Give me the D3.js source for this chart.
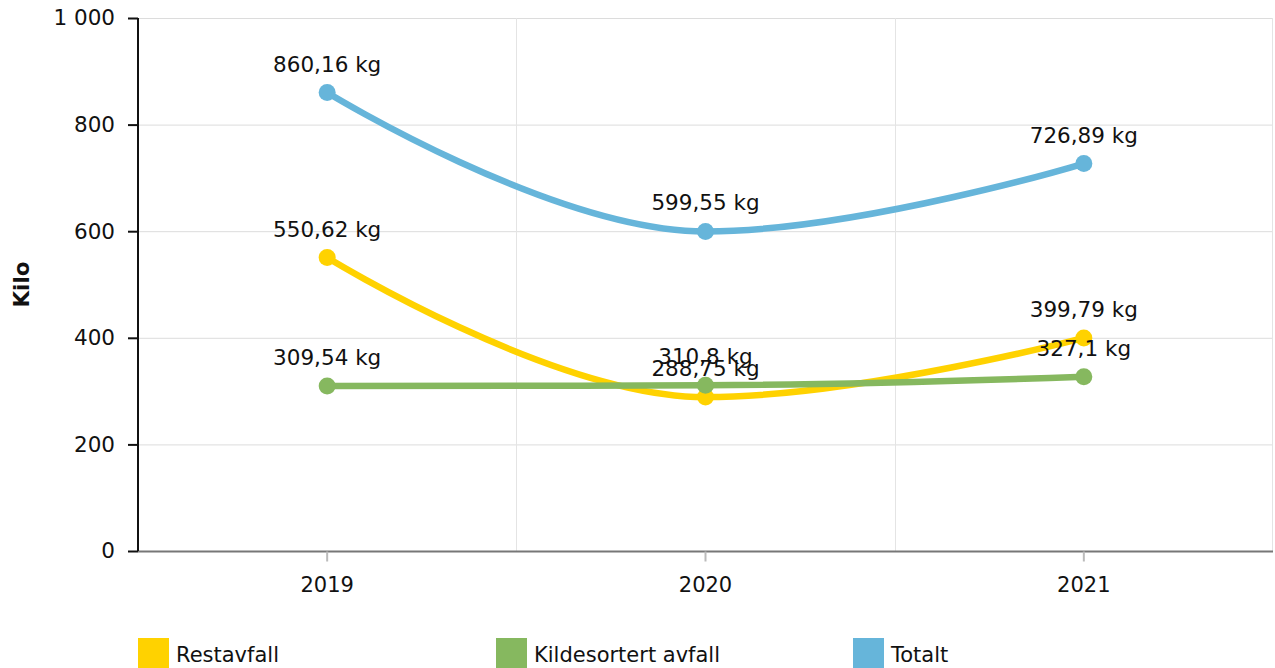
<!DOCTYPE html>
<html lang="no">
<head>
<meta charset="UTF-8">
<script src="https://cdn.jsdelivr.net/npm/d3@7"></script>
<style>
  body { margin: 0; overflow: hidden; background: #fff; font-family: "DejaVu Sans", Verdana, sans-serif; }
</style>
</head>
<body>
<svg id="chart" width="1275" height="668"></svg>
<script>
const years = ['2019', '2020', '2021'];
const restavfall = [550.62, 288.75, 399.79];
const kildesortert = [309.54, 310.8, 327.1];
const totalt = [860.16, 599.55, 726.89];
const seriesNames = ['Restavfall', 'Kildesortert avfall', 'Totalt'];
const seriesColors = ['#ffd200', '#86b85f', '#66b5da'];
const yTicks = [0, 200, 400, 600, 800, 1000];

const series = [restavfall, kildesortert, totalt].map((vals, i) => ({
  name: seriesNames[i], color: seriesColors[i],
  points: vals.map((v, j) => ({ year: years[j], value: v }))
}));

const svg = d3.select('#chart');
const plotLeft = 138, plotRight = 1273, plotTop = 18, plotBottom = 551;
const fontFamily = '"DejaVu Sans", Verdana, sans-serif';
const fs = 21.5;

const x = d3.scaleBand().domain(years).range([plotLeft, plotRight]);
const y = d3.scaleLinear().domain([0, 1000]).range([plotBottom, plotTop]);
const fmt = v => String(v).replace('.', ',') + ' kg';
const tickFmt = v => v >= 1000 ? d3.format(',')(v).replace(',', ' ') : String(v);

// spline like the original (control points at 1.5 smoothing, no false extremes)
function splineCurve(context) {
  let pts;
  return {
    areaStart() {}, areaEnd() {},
    lineStart() { pts = []; },
    point(px, py) { pts.push({ x: +px, y: +py }); },
    lineEnd() {
      const sm = 1.5, den = sm + 1;
      pts.forEach((p, i) => {
        if (i === 0 || i === pts.length - 1) return;
        const a = pts[i - 1], b = pts[i + 1];
        let lx = (sm * p.x + a.x) / den, ly = (sm * p.y + a.y) / den;
        let rx = (sm * p.x + b.x) / den, ry = (sm * p.y + b.y) / den;
        const corr = ((ry - ly) * (rx - p.x)) / (rx - lx) + p.y - ry;
        ly += corr; ry += corr;
        if (ly > a.y && ly > p.y) { ly = Math.max(a.y, p.y); ry = 2 * p.y - ly; }
        else if (ly < a.y && ly < p.y) { ly = Math.min(a.y, p.y); ry = 2 * p.y - ly; }
        if (ry > b.y && ry > p.y) { ry = Math.max(b.y, p.y); ly = 2 * p.y - ry; }
        else if (ry < b.y && ry < p.y) { ry = Math.min(b.y, p.y); ly = 2 * p.y - ry; }
        Object.assign(p, { lx, ly, rx, ry });
      });
      pts.forEach((p, i) => {
        if (i === 0) { context.moveTo(p.x, p.y); return; }
        const q = pts[i - 1];
        context.bezierCurveTo(
          q.rx ?? q.x, q.ry ?? q.y,
          p.lx ?? p.x, p.ly ?? p.y,
          p.x, p.y);
      });
    }
  };
}

// grid
svg.append('g').selectAll('line').data(yTicks.filter(d => d > 0)).join('line')
  .attr('x1', plotLeft).attr('x2', plotRight)
  .attr('y1', d => y(d) + 0.5).attr('y2', d => y(d) + 0.5)
  .attr('stroke', '#dcdcdc').attr('stroke-width', 1);
svg.append('g').selectAll('line').data(years.slice(1)).join('line')
  .attr('x1', d => Math.round(x(d)) + 0.5).attr('x2', d => Math.round(x(d)) + 0.5)
  .attr('y1', plotTop).attr('y2', plotBottom)
  .attr('stroke', '#e4e4e4').attr('stroke-width', 1);
svg.append('line')
  .attr('x1', plotRight - 0.5).attr('x2', plotRight - 0.5).attr('y1', plotTop).attr('y2', plotBottom)
  .attr('stroke', '#e4e4e4');

// x axis
const xAxis = svg.append('g').attr('transform', `translate(0,${plotBottom + 0.5})`)
  .call(d3.axisBottom(x).tickSize(10).tickPadding(16));
xAxis.select('.domain').attr('stroke', '#777').attr('stroke-width', 2).attr('d', `M${plotLeft},0H${plotRight}`);
xAxis.selectAll('.tick line').attr('stroke', '#bbb').attr('stroke-width', 2);
xAxis.selectAll('.tick text').attr('font-size', 21).attr('fill', '#111').attr('font-family', fontFamily);

// y axis
const yAxis = svg.append('g').attr('transform', `translate(${plotLeft},0)`)
  .call(d3.axisLeft(y).tickValues(yTicks).tickFormat(tickFmt).tickSize(10).tickPadding(13));
yAxis.select('.domain').attr('stroke', '#111').attr('stroke-width', 2).attr('d', `M0,${plotTop}V${plotBottom}`);
yAxis.selectAll('.tick line').attr('stroke', '#111').attr('stroke-width', 2);
yAxis.selectAll('.tick text').attr('font-size', fs).attr('fill', '#111').attr('font-family', fontFamily);

svg.append('text')
  .attr('transform', `translate(29,${(plotTop + plotBottom) / 2}) rotate(-90)`)
  .attr('text-anchor', 'middle').attr('font-size', fs).attr('font-weight', 'bold')
  .attr('fill', '#111').text('Kilo');

// lines
const cx = d => x(d.year) + x.bandwidth() / 2;
const line = d3.line().x(cx).y(d => y(d.value)).curve(splineCurve);

series.forEach(s => {
  svg.append('path').datum(s.points)
    .attr('d', line).attr('fill', 'none')
    .attr('stroke', s.color).attr('stroke-width', 6.5).attr('stroke-linecap', 'round');
  svg.append('g').selectAll('circle').data(s.points).join('circle')
    .attr('cx', cx).attr('cy', d => y(d.value)).attr('r', 8.5).attr('fill', s.color);
});

// labels
series.forEach(s => {
  svg.append('g').selectAll('text').data(s.points).join('text')
    .attr('x', cx).attr('y', d => y(d.value) - 21)
    .attr('text-anchor', 'middle').attr('font-size', fs).attr('fill', '#111')
    .text(d => fmt(d.value));
});

// legend
const legendX = [138, 496, 853];
const lg = svg.append('g').selectAll('g').data(series).join('g')
  .attr('transform', (d, i) => `translate(${legendX[i]},638)`);
lg.append('rect').attr('width', 31).attr('height', 30).attr('fill', d => d.color);
lg.append('text').attr('x', 38).attr('y', 24).attr('font-size', 21).attr('fill', '#111')
  .text(d => d.name);
</script>
</body>
</html>
